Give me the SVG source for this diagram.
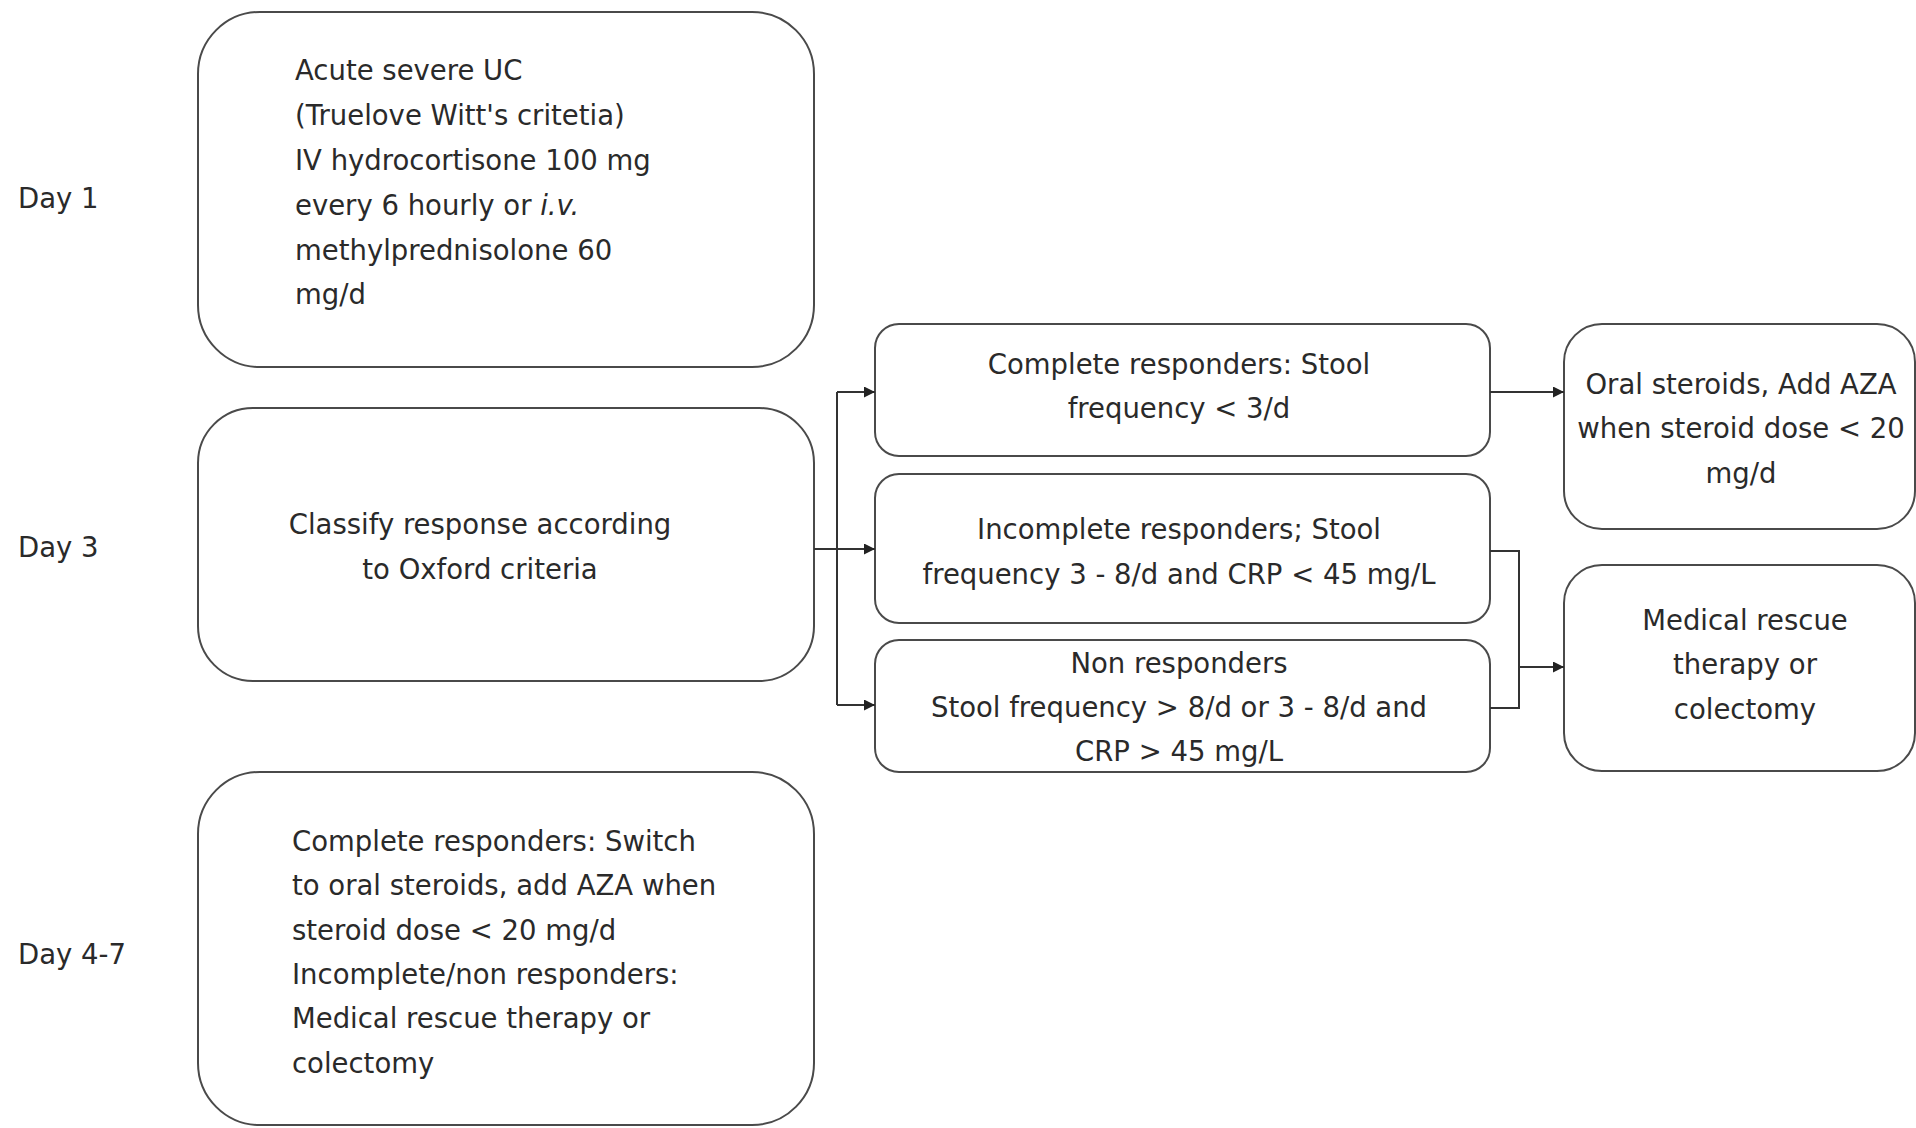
<svg xmlns="http://www.w3.org/2000/svg" width="1916" height="1128" viewBox="0 0 1916 1128">
<style>
.box{fill:#fff;stroke:#4a4a4a;stroke-width:2}
.t{font-family:"DejaVu Sans",Verdana,sans-serif;font-size:27.5px;fill:#2a2a2a}
.m{text-anchor:middle}
.c{fill:none;stroke:#333;stroke-width:2}
</style>
<defs>
<marker id="ah" viewBox="0 0 10 10" refX="10" refY="5" markerWidth="16" markerHeight="11" markerUnits="userSpaceOnUse" orient="auto">
<path d="M0,0 L10,5 L0,10 z" fill="#222"/>
</marker>
</defs>
<rect width="1916" height="1128" fill="#fff"/>
<g id="labels">
<text class="t" x="18" y="208">Day 1</text>
<text class="t" x="18" y="557">Day 3</text>
<text class="t" x="18" y="964">Day 4-7</text>
</g>
<g id="day1">
<rect class="box" x="198" y="12" width="616" height="355" rx="62"/>
<text class="t" x="295" y="80">Acute severe UC</text>
<text class="t" x="295" y="125">(Truelove Witt's critetia)</text>
<text class="t" x="295" y="170">IV hydrocortisone 100 mg</text>
<text class="t" x="295" y="215">every 6 hourly or <tspan font-style="italic">i.v.</tspan></text>
<text class="t" x="295" y="260">methylprednisolone 60</text>
<text class="t" x="295" y="304">mg/d</text>
</g>
<g id="classify">
<rect class="box" x="198" y="408" width="616" height="273" rx="55"/>
<text class="t m" x="480" y="534">Classify response according</text>
<text class="t m" x="480" y="579">to Oxford criteria</text>
</g>
<g id="day47">
<rect class="box" x="198" y="772" width="616" height="353" rx="62"/>
<text class="t" x="292" y="851">Complete responders: Switch</text>
<text class="t" x="292" y="895">to oral steroids, add AZA when</text>
<text class="t" x="292" y="940">steroid dose &lt; 20 mg/d</text>
<text class="t" x="292" y="984">Incomplete/non responders:</text>
<text class="t" x="292" y="1028">Medical rescue therapy or</text>
<text class="t" x="292" y="1073">colectomy</text>
</g>
<g id="complete">
<rect class="box" x="875" y="324" width="615" height="132" rx="24"/>
<text class="t m" x="1179" y="374">Complete responders: Stool</text>
<text class="t m" x="1179" y="418">frequency &lt; 3/d</text>
</g>
<g id="incomplete">
<rect class="box" x="875" y="474" width="615" height="149" rx="24"/>
<text class="t m" x="1179" y="539">Incomplete responders; Stool</text>
<text class="t m" x="1179" y="584">frequency 3 - 8/d and CRP &lt; 45 mg/L</text>
</g>
<g id="non">
<rect class="box" x="875" y="640" width="615" height="132" rx="24"/>
<text class="t m" x="1179" y="673">Non responders</text>
<text class="t m" x="1179" y="717">Stool frequency &gt; 8/d or 3 - 8/d and</text>
<text class="t m" x="1179" y="761">CRP &gt; 45 mg/L</text>
</g>
<g id="oral">
<rect class="box" x="1564" y="324" width="351" height="205" rx="38"/>
<text class="t m" x="1741" y="394">Oral steroids, Add AZA</text>
<text class="t m" x="1741" y="438">when steroid dose &lt; 20</text>
<text class="t m" x="1741" y="483">mg/d</text>
</g>
<g id="rescue">
<rect class="box" x="1564" y="565" width="351" height="206" rx="38"/>
<text class="t m" x="1745" y="630">Medical rescue</text>
<text class="t m" x="1745" y="674">therapy or</text>
<text class="t m" x="1745" y="719">colectomy</text>
</g>
<g id="connectors">
<path class="c" d="M814,549 H837"/>
<path class="c" d="M837,392 V705"/>
<path class="c" d="M837,392 H875" marker-end="url(#ah)"/>
<path class="c" d="M837,549 H875" marker-end="url(#ah)"/>
<path class="c" d="M837,705 H875" marker-end="url(#ah)"/>
<path class="c" d="M1490,392 H1564" marker-end="url(#ah)"/>
<path class="c" d="M1490,551 H1519 V708 H1490"/>
<path class="c" d="M1519,667 H1564" marker-end="url(#ah)"/>
</g>
</svg>
